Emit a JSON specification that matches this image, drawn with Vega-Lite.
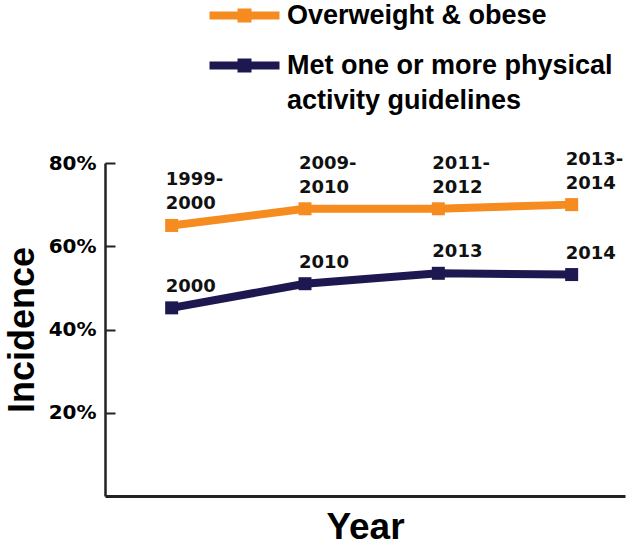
{
  "$schema": "https://vega.github.io/schema/vega-lite/v6.json",
  "width": 520,
  "height": 333,
  "autosize": {"type": "none"},
  "padding": {"left": 105, "top": 163, "right": 16, "bottom": 50},
  "background": "white",
  "config": {"view": {"stroke": null}, "axis": {"grid": false}},
  "data": {
    "values": [
      {"series": "Overweight & obese", "pos": 1, "value": 0.65, "label": "1999-\n2000"},
      {"series": "Overweight & obese", "pos": 2, "value": 0.69, "label": "2009-\n2010"},
      {"series": "Overweight & obese", "pos": 3, "value": 0.69, "label": "2011-\n2012"},
      {"series": "Overweight & obese", "pos": 4, "value": 0.70, "label": "2013-\n2014"},
      {"series": "Met one or more physical activity guidelines", "pos": 1, "value": 0.452, "label": "2000"},
      {"series": "Met one or more physical activity guidelines", "pos": 2, "value": 0.51, "label": "2010"},
      {"series": "Met one or more physical activity guidelines", "pos": 3, "value": 0.535, "label": "2013"},
      {"series": "Met one or more physical activity guidelines", "pos": 4, "value": 0.532, "label": "2014"}
    ]
  },
  "encoding": {
    "x": {
      "field": "pos",
      "type": "quantitative",
      "scale": {"domain": [0.5, 4.4]},
      "axis": {
        "title": "Year",
        "labels": false,
        "ticks": false,
        "domainColor": "#222222",
        "domainWidth": 3,
        "titleFont": "Liberation Sans",
        "titleFontSize": 37,
        "titleFontWeight": "bold",
        "titleColor": "#000000",
        "titlePadding": 13
      }
    },
    "y": {
      "field": "value",
      "type": "quantitative",
      "scale": {"domain": [0, 0.8]},
      "axis": {
        "title": "Incidence",
        "values": [0.2, 0.4, 0.6, 0.8],
        "format": ".0%",
        "tickSize": -10,
        "tickWidth": 2,
        "tickColor": "#222222",
        "domainColor": "#222222",
        "domainWidth": 2.5,
        "labelFont": "DejaVu Sans",
        "labelFontSize": 20,
        "labelFontWeight": "bold",
        "labelColor": "#000000",
        "labelPadding": 19,
        "titleFont": "Liberation Sans",
        "titleFontSize": 36,
        "titleFontWeight": "bold",
        "titleColor": "#000000",
        "titlePadding": 7
      }
    }
  },
  "layer": [
    {
      "mark": {"type": "line", "strokeWidth": 8},
      "encoding": {
        "color": {
          "field": "series",
          "type": "nominal",
          "sort": null,
          "scale": {
            "domain": ["Overweight & obese", "Met one or more physical activity guidelines"],
            "range": ["#F68B1F", "#1E1850"]
          },
          "legend": {
            "orient": "none",
            "legendX": 126,
            "legendY": -161,
            "title": null,
            "padding": 0,
            "symbolType": "M-5,-0.57H5V0.57H-5Z M-1,-1H1V1H-1Z",
            "symbolSize": 196,
            "symbolStrokeWidth": 0,
            "labelFont": "Liberation Sans",
            "labelFontSize": 27,
            "labelFontWeight": "bold",
            "labelColor": "#000000",
            "labelLimit": 700,
            "labelOffset": 29,
            "labelBaseline": "top",
            "rowPadding": 22,
            "labelExpr": "datum.label == 'Met one or more physical activity guidelines' ? ['Met one or more physical', 'activity guidelines'] : datum.label",
            "encode": {
              "symbols": {
                "update": {
                  "fill": {"scale": "color", "field": "value"},
                  "stroke": {"value": "transparent"},
                  "strokeWidth": {"value": 0},
                  "shape": {"value": "M-5,-0.57H5V0.57H-5Z M-1,-1H1V1H-1Z"},
                  "size": {"value": 196},
                  "opacity": {"value": 1}
                }
              },
              "labels": {
                "update": {
                  "lineHeight": {"value": 35},
                  "dy": {"value": -13}
                }
              }
            }
          }
        }
      }
    },
    {
      "mark": {"type": "point", "shape": "square", "filled": true, "size": 169, "opacity": 1},
      "encoding": {
        "color": {"field": "series", "type": "nominal", "sort": null, "legend": null}
      }
    },
    {
      "transform": [{"filter": "datum.series == 'Overweight & obese'"}],
      "mark": {
        "type": "text",
        "align": "left",
        "baseline": "bottom",
        "dx": -6,
        "dy": -36,
        "lineBreak": "\n",
        "lineHeight": 24,
        "font": "DejaVu Sans",
        "fontSize": 18,
        "fontWeight": "bold",
        "color": "#111111"
      },
      "encoding": {
        "text": {"field": "label", "type": "nominal"}
      }
    },
    {
      "transform": [{"filter": "datum.series != 'Overweight & obese'"}],
      "mark": {
        "type": "text",
        "align": "left",
        "baseline": "bottom",
        "dx": -6,
        "dy": -12,
        "font": "DejaVu Sans",
        "fontSize": 18,
        "fontWeight": "bold",
        "color": "#111111"
      },
      "encoding": {
        "text": {"field": "label", "type": "nominal"}
      }
    }
  ]
}
